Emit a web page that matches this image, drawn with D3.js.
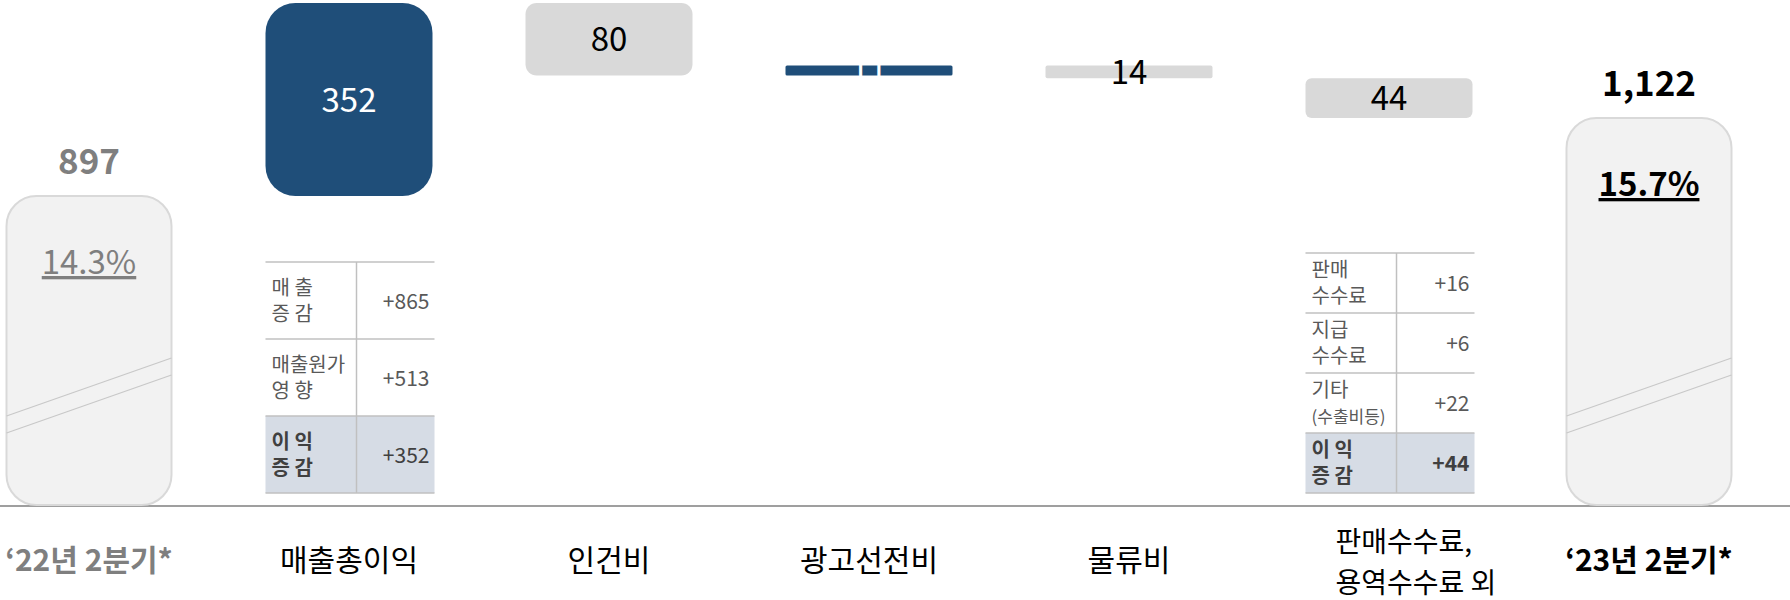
<!DOCTYPE html>
<html>
<head>
<meta charset="utf-8">
<script src="https://cdn.jsdelivr.net/npm/d3@7"></script>
<style>
  body { margin: 0; background: #fff; }
  text { font-family: "Noto Sans CJK KR", "Noto Sans", sans-serif; }
</style>
</head>
<body>
<div class="div_d3"></div>
<script>
// ---- data ----
const categories = ["q22", "gross", "labor", "ads", "logistics", "fees", "q23"];
const categoryLabels = [["‘22년 2분기*"], ["매출총이익"], ["인건비"], ["광고선전비"], ["물류비"], ["판매수수료,", "용역수수료 외"], ["‘23년 2분기*"]];
const barTypes = ["total", "up", "down", "up", "down", "down", "total"];
const barValues = [897, 352, 80, 11, 14, 44, 1122];
const marginLabels = ["14.3%", null, null, null, null, null, "15.7%"];

const grossRowLabels = [["매 출", "증 감"], ["매출원가", "영 향"], ["이 익", "증 감"]];
const grossRowValues = ["+865", "+513", "+352"];
const feeRowLabels = [["판매", "수수료"], ["지급", "수수료"], ["기타", "(수출비등)"], ["이 익", "증 감"]];
const feeRowValues = ["+16", "+6", "+22", "+44"];

// ---- layout ----
const W = 1790, H = 600;
const baseline = 506;
const blue = "#1f4e79", grey = "#d9d9d9";

const svg = d3.select(".div_d3")
  .append("svg")
    .attr("width", W)
    .attr("height", H);

// running totals for the waterfall
let level = 0;
const bars = barValues.map((v, i) => {
  let start, end;
  if (barTypes[i] == "total") { start = 0; end = v; level = v; }
  else if (barTypes[i] == "up") { start = level; end = level + v; level = end; }
  else { start = level; end = level - v; level = end; }
  return {key: categories[i], type: barTypes[i], value: v, lo: Math.min(start, end), hi: Math.max(start, end), i: i};
});
const peak = d3.max(bars, d => d.hi);

const x = d3.scaleBand()
  .domain(categories)
  .range([5.5, 1732.5])
  .paddingInner(0.3577)
  .paddingOuter(0);

// broken axis: the total bars are cut (diagonal marks), so the scale has stops
const y = d3.scaleLinear()
  .domain([0, barValues[0], barValues[6], peak])
  .range([baseline - 1, 196, 118, 3]);

const bw = x.bandwidth();

// baseline
svg.append("line")
  .attr("x1", 0).attr("x2", W)
  .attr("y1", baseline).attr("y2", baseline)
  .attr("stroke", "#7f7f7f").attr("stroke-width", 1.5);

// bars
svg.selectAll("rect.bar")
  .data(bars)
  .enter()
  .append("rect")
    .attr("class", "bar")
    .attr("x", d => x(d.key) + (d.type == "total" ? 1 : 0))
    .attr("y", d => y(d.hi))
    .attr("width", d => bw - (d.type == "total" ? 2 : 0))
    .attr("height", d => y(d.lo) - y(d.hi))
    .attr("rx", d => d.type == "total" ? 30 : Math.min(30, 0.155 * (y(d.lo) - y(d.hi))))
    .style("fill", d => d.type == "total" ? "#f2f2f2" : (d.type == "up" ? blue : grey))
    .style("stroke", d => d.type == "total" ? "#d9d9d9" : "none")
    .style("stroke-width", 2);

// break marks on total bars
const totals = bars.filter(d => d.type == "total");
[0, 17].forEach(off => {
  svg.selectAll(null)
    .data(totals)
    .enter()
    .append("line")
      .attr("x1", d => x(d.key) + 1).attr("x2", d => x(d.key) + bw - 1)
      .attr("y1", baseline - 90 + off).attr("y2", baseline - 148 + off)
      .attr("stroke", "#c8c8c8").attr("stroke-width", 1.2);
});

// value labels inside delta bars
const deltas = bars.filter(d => d.type != "total");
svg.selectAll("text.val")
  .data(deltas)
  .enter()
  .append("text")
    .attr("class", "val")
    .attr("x", d => x(d.key) + bw / 2)
    .attr("y", d => (y(d.lo) + y(d.hi)) / 2 + 12)
    .attr("text-anchor", "middle")
    .attr("font-size", "33px")
    .attr("fill", d => d.type == "up" ? "#fff" : "#000")
    .text(d => d.value);

// total labels above the total bars
svg.selectAll("text.tot")
  .data(totals)
  .enter()
  .append("text")
    .attr("class", "tot")
    .attr("x", d => x(d.key) + bw / 2)
    .attr("y", d => y(d.hi) - 22)
    .attr("text-anchor", "middle")
    .attr("font-size", "35px")
    .attr("font-weight", "bold")
    .attr("fill", d => d.i == 0 ? "#7f7f7f" : "#000")
    .text(d => d3.format(",")(d.value));

// margin % in total bars
svg.selectAll("text.margin")
  .data(totals)
  .enter()
  .append("text")
    .attr("class", "margin")
    .attr("x", d => x(d.key) + bw / 2)
    .attr("y", d => y(d.hi) + 78)
    .attr("text-anchor", "middle")
    .attr("font-size", "33px")
    .attr("font-weight", d => d.i == 0 ? "normal" : "bold")
    .attr("fill", d => d.i == 0 ? "#7f7f7f" : "#000")
    .style("text-decoration", "underline")
    .text(d => marginLabels[d.i]);

// category labels
categoryLabels.forEach((lines, i) => {
  const multi = lines.length > 1;
  const lx = multi ? x(categories[i]) + 30 : x(categories[i]) + bw / 2;
  const t = svg.append("text")
    .attr("x", lx)
    .attr("y", multi ? 552 : 571)
    .attr("text-anchor", multi ? "start" : "middle")
    .attr("font-size", multi ? "28px" : "30px")
    .attr("font-weight", i == 0 || i == 6 ? "bold" : "normal")
    .attr("fill", i == 0 ? "#7f7f7f" : "#000");
  lines.forEach((l, j) => {
    t.append("tspan")
      .attr("x", lx)
      .attr("dy", j == 0 ? 0 : 41)
      .text(l);
  });
});

// breakdown tables under bars
function drawTable(key, labels, values, rowH, boldValue){
  const x0 = x(key), x1 = x0 + bw + 2, xd = x0 + 91;
  const bottom = 493;
  const top = bottom - rowH * labels.length;
  const g = svg.append("g");
  const last = labels.length - 1;
  const lineGap = 26;

  g.append("rect")
    .attr("x", x0).attr("y", top + rowH * last)
    .attr("width", x1 - x0).attr("height", rowH)
    .style("fill", "#d6dce5");

  d3.range(labels.length + 1).forEach(r => {
    g.append("line")
      .attr("x1", x0).attr("x2", x1)
      .attr("y1", top + r * rowH).attr("y2", top + r * rowH)
      .attr("stroke", "#c0c0c0").attr("stroke-width", 1.5);
  });
  g.append("line")
    .attr("x1", xd).attr("x2", xd)
    .attr("y1", top).attr("y2", bottom)
    .attr("stroke", "#c0c0c0").attr("stroke-width", 1.5);

  labels.forEach((lines, r) => {
    const cy = top + r * rowH + rowH / 2;
    const bold = r == last;
    const t = g.append("text")
      .attr("x", x0 + 6)
      .attr("y", cy - lineGap / 2 + 7)
      .attr("font-size", "20px")
      .attr("font-weight", bold ? "bold" : "normal")
      .attr("fill", bold ? "#404040" : "#595959");
    lines.forEach((l, j) => {
      t.append("tspan")
        .attr("x", x0 + 6)
        .attr("dy", j == 0 ? 0 : lineGap)
        .attr("font-size", l.startsWith("(") ? "17px" : null)
        .text(l);
    });
    g.append("text")
      .attr("x", x1 - 5)
      .attr("y", cy + 8)
      .attr("text-anchor", "end")
      .attr("font-size", "21px")
      .attr("font-weight", bold && boldValue ? "bold" : "normal")
      .attr("fill", bold ? "#404040" : "#595959")
      .text(values[r]);
  });
}

drawTable("gross", grossRowLabels, grossRowValues, 77, false);
drawTable("fees", feeRowLabels, feeRowValues, 60, true);
</script>
</body>
</html>
